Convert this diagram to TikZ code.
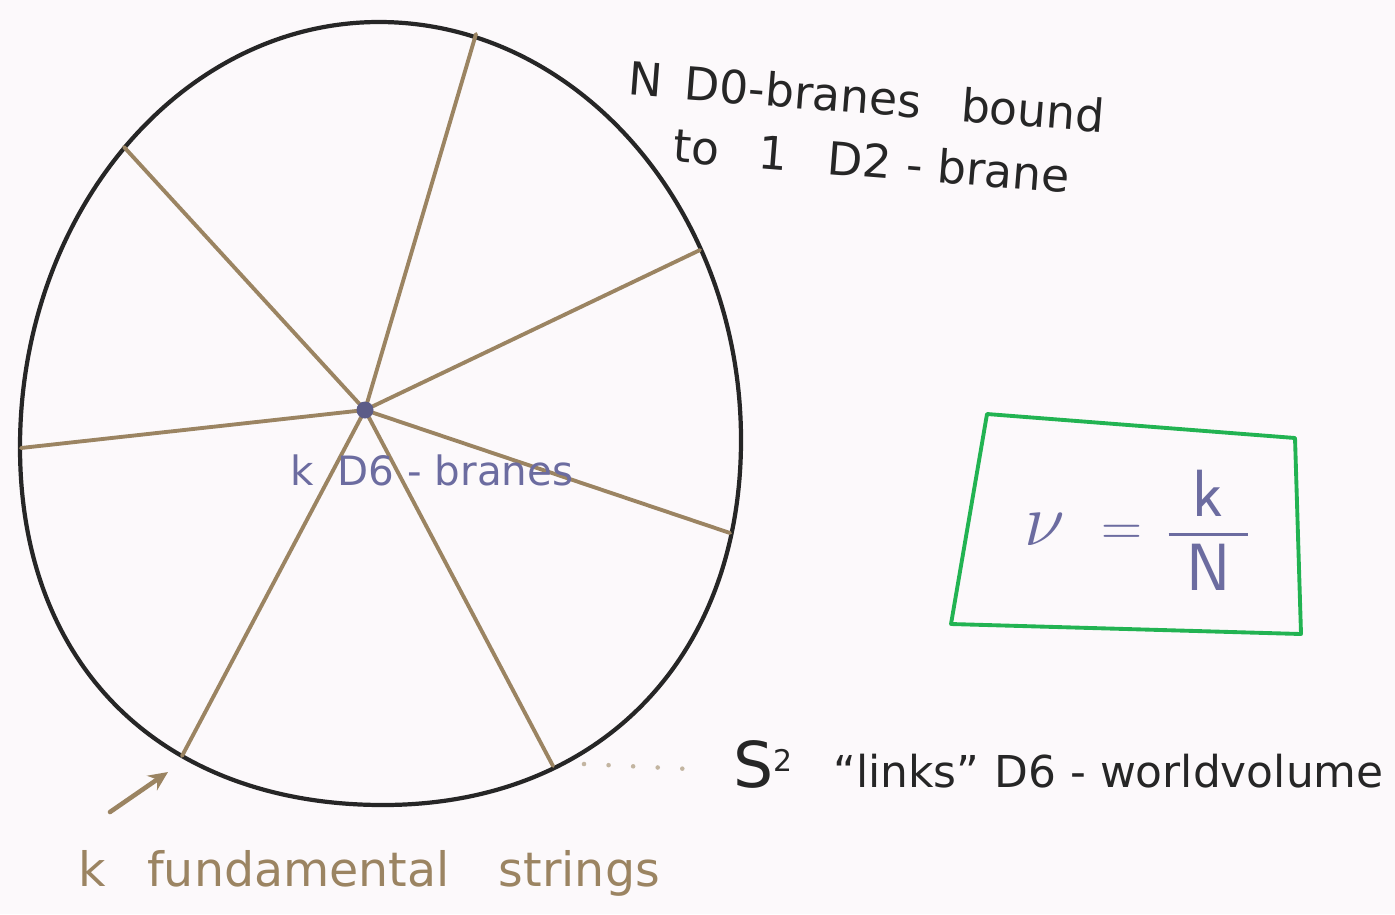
\documentclass[tikz,border=0pt]{standalone}
\usepackage{amsmath, amssymb}
\usepackage{fontspec}
\usepackage{tikz}
\usepackage{xcolor}
\usetikzlibrary{arrows.meta}

\newfontfamily\handfont{DejaVu Sans}

\definecolor{inkbrown}{HTML}{9B8462}
\definecolor{inkblue}{HTML}{6C6CA0}
\definecolor{inkgreen}{HTML}{22B352}
\definecolor{paper}{HTML}{FCF9FB}

\begin{document}
\begin{tikzpicture}[x=0.02cm, y=-0.02cm,
    string/.style={line width=2.2pt, inkbrown, line cap=round},
    hand/.style={font=\handfont\fontsize{26}{36}\selectfont, inner sep=0pt}]
  % paper
  \fill[paper] (0,0) rectangle (1395,914);
  \useasboundingbox (0,0) rectangle (1395,914);

  % S^2 boundary (hand drawn egg)
  \draw[line width=2.4pt, black!85]
    (20,447) .. controls (20,213) and (181,22) .. (379,22)
             .. controls (578,22) and (741,210) .. (741,440)
             .. controls (741,659) and (598,805) .. (383,805)
             .. controls (165,805) and (20,669) .. cycle;

  % end points of the strings on the sphere
  \coordinate (d6) at (365,410);
  \coordinate (s1) at (476,34);
  \coordinate (s2) at (124,147);
  \coordinate (s3) at (700,250);
  \coordinate (s4) at (730,533);
  \coordinate (s5) at (553,766);
  \coordinate (s6) at (182,756);
  \coordinate (s7) at (21,448);

  % fundamental strings
  \foreach \s in {s1,s2,s3,s4,s5,s6,s7}
    \draw[string] (d6) -- (\s);

  % D6-branes at the centre
  \node[circle, fill=inkblue!85!black, inner sep=0pt, minimum size=0.34cm] (d6dot) at (d6) {};

  % Labels
  \node[hand, inkblue, font=\handfont\fontsize{23}{28}\selectfont, anchor=base west] (d6label) at (290,485) {k\; D6 - branes};

  \node[hand, black!85, anchor=north west, align=left, rotate=-4.5] (d0label) at (630,60)
    {N\, D0-branes\;\; bound\\\hspace{1.0cm}to\;\; 1\;\; D2 - brane};

  % filling fraction box
  \draw[inkgreen, line width=2.2pt, line join=round]
    (987,414) -- (1295,438) -- (1301,634) -- (951,624) -- cycle;
  \node[inkblue, font=\fontsize{38}{44}\selectfont] (nu) at (1137,530)
    {\scalebox{1.7}{$\nu$}$\;\;\;$\scalebox{1.3}{$=$}$\;\; \dfrac{\;\;\textsf{k}\;\;}{\textsf{N}}$};

  % S^2 links the D6 worldvolume
  \node[hand, black!85, anchor=base west, font=\handfont\fontsize{25}{28}\selectfont] (s2label) at (733,787)
    {{\fontsize{36}{38}\selectfont S}\textsuperscript{\fontsize{17}{20}\selectfont 2}\hspace{0.8cm}%
     “links”\hspace{0.3cm}D6 - worldvolume};
  \coordinate (dotstart) at (584,764);
  \coordinate (dotend) at (690,769);
  \draw[inkbrown!60, line width=2.6pt, line cap=round, dash pattern=on 0pt off 14pt] (dotstart) -- (dotend);

  % strings label
  \node[hand, inkbrown, font=\handfont\fontsize{27}{30}\selectfont, anchor=base west] (flabel) at (78,886)
    {k\;\; fundamental\;\;\, strings};
  \coordinate (tail) at (110,812);
  \draw[string, line width=2.6pt, -{Stealth[length=11pt, width=10pt]}] (tail) -- (168,772);
\end{tikzpicture}
\end{document}
